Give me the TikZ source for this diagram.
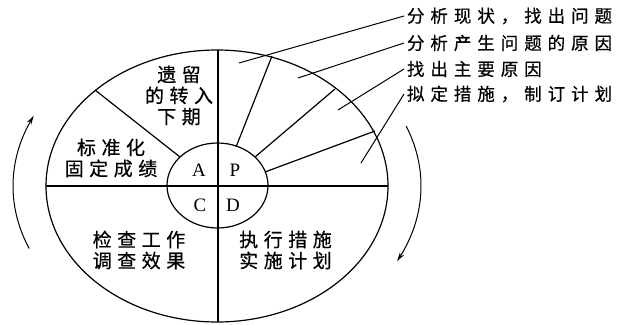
\documentclass[tikz,border=0pt]{standalone}
\usepackage{fontspec}
\newfontfamily\cjkin[LetterSpace=29,FakeBold=0.6]{Noto Sans CJK SC}
\newfontfamily\cjklab[LetterSpace=34,FakeBold=0.6]{Noto Sans CJK SC}
\newfontfamily\serifl{Liberation Serif}
\usetikzlibrary{arrows.meta}
\begin{document}
\begin{tikzpicture}[x=1pt,y=-1pt,line width=1.2pt,
  intext/.style={font=\cjkin\fontsize{19}{21}\selectfont,align=center,inner sep=0pt},
  lbltext/.style={font=\cjklab\fontsize{17.5}{18}\selectfont,anchor=west,inner sep=0pt,outer sep=3pt},
  letter/.style={font=\serifl\fontsize{19}{19}\selectfont,inner sep=0pt},
  leader/.style={line width=1pt},
  cyc/.style={line width=1pt,-{Stealth[length=9pt,width=5pt]}}
]
\useasboundingbox (0,0) rectangle (617,324);
% ellipses
\draw (217,186) ellipse [x radius=171, y radius=136];
\draw (217.5,185.5) ellipse [x radius=50.5, y radius=42.5];
% axes
\coordinate (hl) at (46,186);
\coordinate (hr) at (388,186);
\coordinate (vt) at (218,50);
\coordinate (vb) at (218,322);
\draw (hl) -- (hr);
\draw (vt) -- (vb);
% spokes
\coordinate (a1) at (180,157); \coordinate (a2) at (95,90);
\coordinate (p1i) at (236,147); \coordinate (p1o) at (272,56);
\coordinate (p2i) at (255,157); \coordinate (p2o) at (335,89);
\coordinate (p3i) at (265,172); \coordinate (p3o) at (375,131);
\draw (a1) -- (a2);
\draw (p1i) -- (p1o);
\draw (p2i) -- (p2o);
\draw (p3i) -- (p3o);
% inner letters
\node[letter] (A) at (199,170) {A};
\node[letter] (P) at (235,170) {P};
\node[letter] (C) at (200,205) {C};
\node[letter] (D) at (233,205) {D};
% sector texts
\node[intext] (t1) at (179,95.5) {遗留\\的转入\\下期};
\node[intext] (t2) at (111,158) {标准化\\固定成绩};
\node[intext] (t3) at (139,250) {检查工作\\调查效果};
\node[intext] (t4) at (285.5,250) {执行措施\\实施计划};
% labels
\node[lbltext] (l1) at (404,16) {分析现状，找出问题};
\node[lbltext] (l2) at (404,43) {分析产生问题的原因};
\node[lbltext] (l3) at (404,69) {找出主要原因};
\node[lbltext] (l4) at (404,94) {拟定措施，制订计划};
\coordinate (s1) at (239,63);
\coordinate (s2) at (298,78);
\coordinate (s3) at (338,110);
\coordinate (s4) at (361,163);
\draw[leader] (s1) -- (l1.west);
\draw[leader] (s2) -- (l2.west);
\draw[leader] (s3) -- (l3.west);
\draw[leader] (s4) -- (l4.west);
% cycle arrows
\draw[cyc] plot[domain=157:206,samples=40,smooth] ({217+204*cos(\x)},{186+160*sin(\x)});
\draw[cyc] plot[domain=-22:28,samples=40,smooth] ({217+204*cos(\x)},{186+160*sin(\x)});
\end{tikzpicture}
\end{document}
